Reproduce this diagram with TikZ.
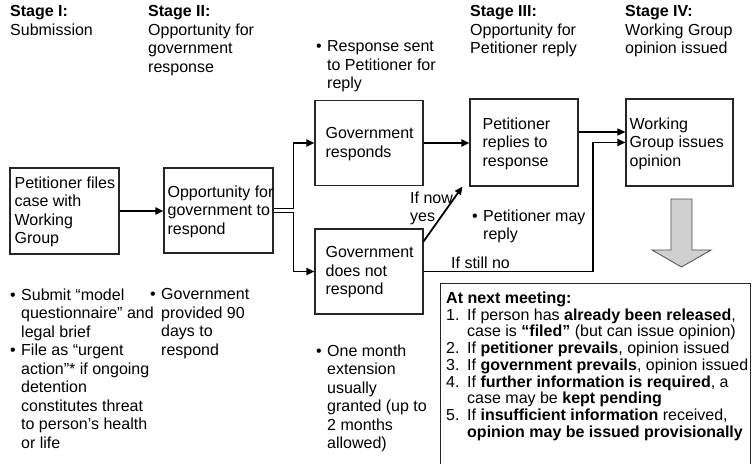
\documentclass[tikz,border=0pt]{standalone}
\usepackage{fontspec}
\setmainfont{Liberation Sans}
\usetikzlibrary{arrows.meta,calc}
\newcommand\mybul{\makebox[11pt][l]{\textbullet}}
\newcommand\myind{\hspace*{11pt}}
\newcommand\mynum[1]{\makebox[21pt][l]{#1}}
\newcommand\mynind{\hspace*{21pt}}
\begin{document}
\begin{tikzpicture}[x=1pt,y=-1pt,
  box/.style={draw=black!85, line width=1.1pt, inner sep=0pt},
  txt/.style={inner sep=0pt, align=left, font=\fontsize{16}{18.5}\selectfont,
    execute at begin node=\strut, execute at end node=\strut},
  boxtxt/.style={txt, anchor=west, yshift=-2pt},
  listtxt/.style={inner sep=0pt, align=left, font=\fontsize{16}{16.7}\selectfont,
    execute at begin node=\strut, execute at end node=\strut},
  arr/.style={draw=black, line width=1.8pt, -{Triangle[length=8pt,width=7pt]}},
  bigarrow/.style={fill={rgb,255:red,208;green,208;blue,208}, draw=black!70, line width=0.8pt}]
\path[use as bounding box] (0,0) rectangle (752,463);
\clip (0,0) rectangle (752,463);

% stage headers
\node[txt, anchor=north west] (h1) at (10,5.5) {\textbf{Stage I:}\\Submission};
\node[txt, anchor=north west] (h2) at (148,5.5) {\textbf{Stage II:}\\Opportunity for\\government\\response};
\node[txt, anchor=north west] (h3) at (470,5.5) {\textbf{Stage III:}\\Opportunity for\\Petitioner reply};
\node[txt, anchor=north west] (h4) at (625,5.5) {\textbf{Stage IV:}\\Working Group\\opinion issued};

\node[txt, anchor=north west] (n3) at (316,40.5) {\mybul Response sent\\\myind to Petitioner for\\\myind reply};

% boxes
\node[box, minimum width=109pt, minimum height=86pt] (b1) at (64.5,211) {};
\node[boxtxt] (t1) at ($(b1.west)+(5,0)$) {Petitioner files\\case with\\Working\\Group};
\node[box, minimum width=109pt, minimum height=85pt] (b2) at (218.5,210.5) {};
\node[boxtxt] (t2) at ($(b2.west)+(4,0)$) {Opportunity for\\government to\\respond};
\node[box, minimum width=108pt, minimum height=85pt] (b3) at (369,143) {};
\node[boxtxt] (t3) at ($(b3.west)+(11,0)$) {Government\\responds};
\node[box, minimum width=108pt, minimum height=85pt] (b4) at (369,271.5) {};
\node[boxtxt] (t4) at ($(b4.west)+(11,0)$) {Government\\does not\\respond};
\node[box, minimum width=108pt, minimum height=87pt] (b5) at (524,142.5) {};
\node[boxtxt] (t5) at ($(b5.west)+(13,0)$) {Petitioner\\replies to\\response};
\node[box, minimum width=107pt, minimum height=87pt] (b6) at (679.5,142.5) {};
\node[boxtxt] (t6) at ($(b6.west)+(4,0)$) {Working\\Group issues\\opinion};

% connectors
\draw[arr] (b1.east) -- (b1.east -| b2.west);
\draw[arr] ($(b2.east)+(0,-2)$) -- ++(20,0) |- (b3.west);
\draw[arr] ($(b2.east)+(0,2)$) -- ++(20,0) |- (b4.west);
\draw[arr] (b3.east) -- (b3.east -| b5.west);
\draw[arr, line width=1.4pt] ($(b5.east)+(0,-10.5)$) -- ($(b6.west)+(0,-10.5)$);
\coordinate (nob) at (593,272);
\draw[arr] (b4.east) -- (b4.east -| nob) |- (b6.west);
\draw[arr] ($(b4.north east)+(0,13)$) -- ($(b5.south west)+(-7,0)$);

\node[txt, anchor=north west] (lyes) at (410,191.5) {If now\\yes};
\node[txt, anchor=north west] (lno) at (451,255.5) {If still no};
\node[txt, anchor=north west] (n5) at (472,209.5) {\mybul Petitioner may\\\myind reply};

% big arrow
\draw[bigarrow] (671,199) -- (692,199) -- (692,250) -- (711,250) -- (681.5,267) -- (652,250) -- (671,250) -- cycle;

% notes under boxes
\node[txt, anchor=north west] (n1) at (10,288.5) {\mybul Submit “model\\\myind questionnaire” and\\\myind legal brief\\\mybul File as “urgent\\\myind action”* if ongoing\\\myind detention\\\myind constitutes threat\\\myind to person’s health\\\myind or life};
\node[txt, anchor=north west] (n2) at (150,288.5) {\mybul Government\\\myind provided 90\\\myind days to\\\myind respond};
\node[txt, anchor=north west] (n4) at (316,344.5) {\mybul One month\\\myind extension\\\myind usually\\\myind granted (up to\\\myind 2 months\\\myind allowed)};

% next meeting box
\node[box, anchor=north west, minimum width=310pt, minimum height=200pt] (nb) at (440,283) {};
\node[listtxt, anchor=north west] (nbt) at (446,291.8) {\textbf{At next meeting:}\\
\mynum{1.}If person has \textbf{already been released},\\
\mynind case is \textbf{“filed”} (but can issue opinion)\\
\mynum{2.}If \textbf{petitioner prevails}, opinion issued\\
\mynum{3.}If \textbf{government prevails}, opinion issued\\
\mynum{4.}If \textbf{further information is required}, a\\
\mynind case may be \textbf{kept pending}\\
\mynum{5.}If \textbf{insufficient information} received,\\
\mynind \textbf{opinion may be issued provisionally}};
\end{tikzpicture}
\end{document}
